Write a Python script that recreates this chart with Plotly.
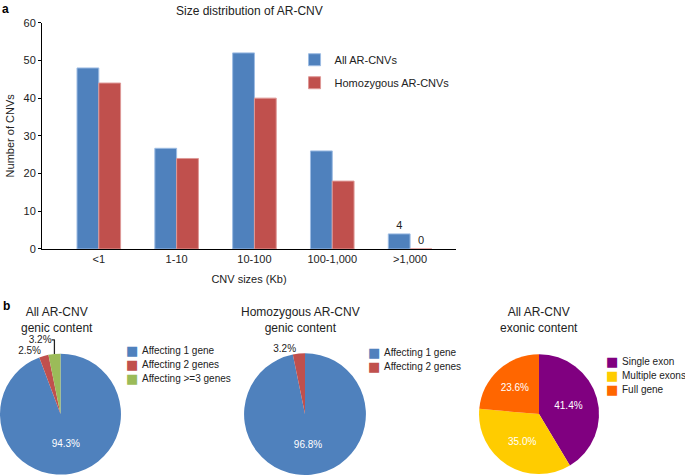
import plotly.graph_objects as go

# bar chart data (panel a)
size_bins = ["<1", "1-10", "10-100", "100-1,000", ">1,000"]
all_cnv = [48, 26.7, 52, 26, 4]
homo_cnv = [44, 24, 40, 18, 0]
all_text = ["", "", "", "", "4"]
homo_text = ["", "", "", "", "0"]

# pie data (panel b)
genic_labels = ["Affecting 1 gene", "Affecting 2 genes", "Affecting >=3 genes"]
genic_all = [94.3, 2.5, 3.2]
homo_labels = ["Affecting 1 gene", "Affecting 2 genes"]
genic_homo = [96.8, 3.2]
exon_labels = ["Single exon", "Multiple exons", "Full gene"]
exon_all = [41.4, 35.0, 23.6]

BLUE = "#4F81BD"
RED = "#C0504D"
GREEN = "#9BBB59"
genic_colors = [BLUE, RED, GREEN]
exon_colors = ["#800080", "#FFCC00", "#FF6600"]
FONT = "Liberation Sans, Arial, sans-serif"

fig = go.Figure()

fig.add_trace(go.Bar(x=size_bins, y=all_cnv, name="All AR-CNVs", marker_color=BLUE,
                     marker_line=dict(color="#9DBCE3", width=1),
                     text=all_text, textposition="outside", cliponaxis=False,
                     textfont=dict(size=11, color="#222"), legendgroup="a"))
fig.add_trace(go.Bar(x=size_bins, y=homo_cnv, name="Homozygous AR-CNVs", marker_color=RED,
                     marker_line=dict(color="#DE9896", width=1),
                     text=homo_text, textposition="outside", cliponaxis=False,
                     textfont=dict(size=11, color="#222"), legendgroup="b"))

pie_y = [0.002, 0.258]
fig.add_trace(go.Pie(labels=genic_labels, values=genic_all, sort=False, direction="clockwise",
                     marker=dict(colors=genic_colors),
                     texttemplate="%{value:.1f}%", textposition=["inside", "outside", "outside"],
                     insidetextfont=dict(color="white", size=10), outsidetextfont=dict(color="#222", size=10),
                     domain=dict(x=[0.0, 0.1766], y=pie_y), showlegend=False))
fig.add_trace(go.Pie(labels=homo_labels, values=genic_homo, sort=False, direction="clockwise",
                     marker=dict(colors=genic_colors[:2]),
                     texttemplate="%{value:.1f}%", textposition=["inside", "outside"],
                     insidetextfont=dict(color="white", size=10), outsidetextfont=dict(color="#222", size=10),
                     domain=dict(x=[0.3562, 0.5343], y=pie_y), showlegend=False))
fig.add_trace(go.Pie(labels=exon_labels, values=exon_all, sort=False, direction="clockwise",
                     marker=dict(colors=exon_colors),
                     texttemplate="%{value:.1f}%", textposition="inside",
                     insidetextfont=dict(color="white", size=10),
                     domain=dict(x=[0.6993, 0.8745], y=[0.004, 0.256]), showlegend=False))

def note(text, x, y, size=12, xanchor="center", yanchor="middle", **kw):
    return dict(text=text, x=x, y=y, xref="paper", yref="paper", xanchor=xanchor,
                yanchor=yanchor, showarrow=False, font=dict(size=size, **kw))

annotations = [
    note("<b>a</b>", 0.0, 1.0, xanchor="left", yanchor="top", color="black"),
    note("<b>b</b>", 0.002, 0.357, xanchor="left", color="black"),
    note("Size distribution of AR-CNV", 0.364, 0.977),
    note("All AR-CNV<br>genic content", 0.0832, 0.3267),
    note("Homozygous AR-CNV<br>genic content", 0.438, 0.3267),
    note("All AR-CNV<br>exonic content", 0.787, 0.3267),
]

# small legends for the pies (square swatch + label), 14 px per row
def pie_legend(labels, colors, x_px, y_px):
    for i, (lab, col) in enumerate(zip(labels, colors)):
        yy = 1 - (y_px + 14 * i) / 476
        annotations.append(dict(text="■", x=x_px / 685, y=yy, xref="paper", yref="paper",
                                xanchor="center", yanchor="middle", showarrow=False, borderpad=0,
                                font=dict(family="DejaVu Sans", size=13, color=col)))
        annotations.append(dict(text=lab, x=(x_px + 9) / 685, y=yy, xref="paper", yref="paper",
                                xanchor="left", yanchor="middle", showarrow=False, borderpad=0,
                                font=dict(size=10, color="#222")))

pie_legend(genic_labels, genic_colors, 132, 350)
pie_legend(homo_labels, genic_colors[:2], 374, 352)
pie_legend(exon_labels, exon_colors, 612, 361)

fig.update_layout(
    width=685, height=476,
    margin=dict(l=0, r=0, t=0, b=0, autoexpand=False),
    paper_bgcolor="white", plot_bgcolor="white",
    font=dict(family=FONT, size=11, color="#222"),
    barmode="group", bargap=0.44, bargroupgap=0,
    xaxis=dict(domain=[0.0613, 0.6657], range=[-0.73, 4.59], showline=True, linecolor="black",
               linewidth=1, ticks="", showgrid=False, automargin=False,
               title=dict(text="CNV sizes (Kb)", font=dict(size=11), standoff=11),
               tickfont=dict(size=11)),
    yaxis=dict(domain=[0.4769, 0.9523], range=[0, 60], dtick=10, showline=True, linecolor="black",
               linewidth=1, ticks="outside", ticklen=3, tickcolor="black", showgrid=False,
               zeroline=False, tickfont=dict(size=11), automargin=False,
               title=dict(text="Number of CNVs", font=dict(size=11), standoff=6)),
    legend=dict(x=0.43, y=0.905, tracegroupgap=4, font=dict(size=11, color="#222"),
                bgcolor="rgba(0,0,0,0)", xanchor="left", yanchor="top"),
    annotations=annotations,
)

# drop the default 8px page margin so the figure sits at the window corner
fig.write_html("out.html", config={"displayModeBar": False},
               post_script="document.body.style.margin='0';")
